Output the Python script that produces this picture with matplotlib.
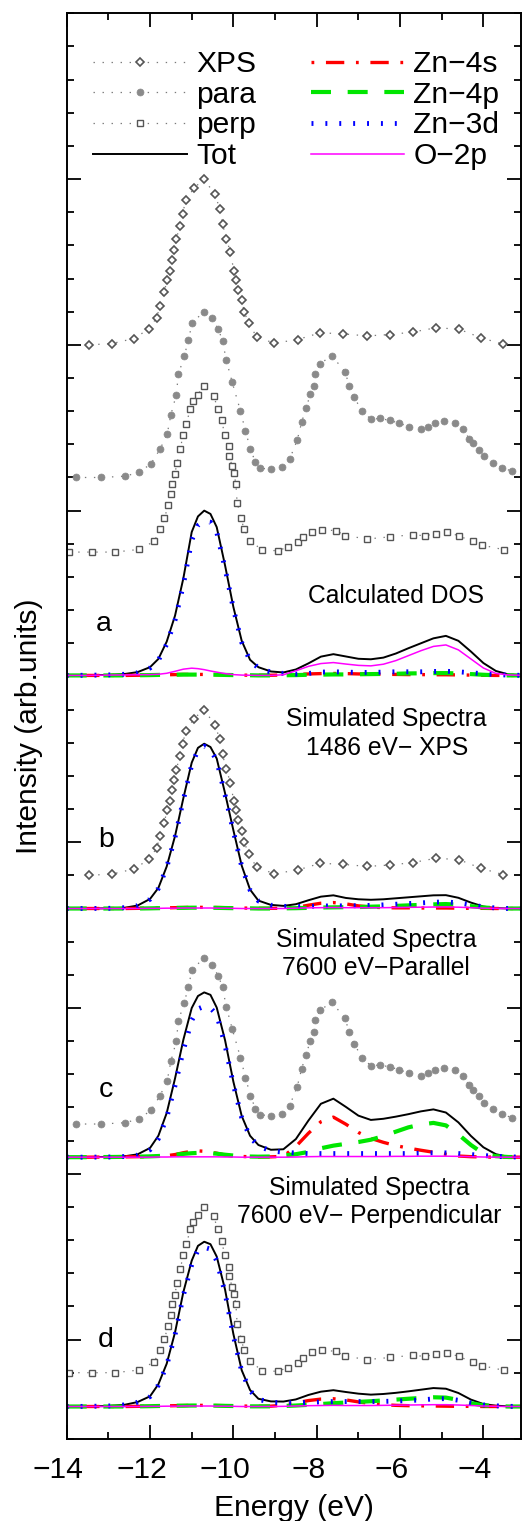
import numpy as np
import matplotlib
matplotlib.use("Agg")
import matplotlib.pyplot as plt
from matplotlib.ticker import FixedLocator, MultipleLocator
from matplotlib.transforms import ScaledTranslation

plt.rcParams['font.family'] = ['Liberation Sans', 'DejaVu Sans']
plt.rcParams['lines.scale_dashes'] = False

# ---------------- experimental spectra (normalised) ----------------
xps_energy = [-13.46, -12.91, -12.39, -12.02, -11.84, -11.76, -11.66, -11.59, -11.53, -11.47,
              -11.42, -11.37, -11.29, -11.22, -11.14, -10.95, -10.71, -10.44, -10.33, -10.26,
              -10.17, -10.07, -9.99, -9.94, -9.89, -9.80, -9.74, -9.63, -9.44, -9.02,
              -8.46, -7.91, -7.36, -6.79, -6.25, -5.70, -5.14, -4.59, -4.05, -3.52]
xps_int = [0.000, 0.008, 0.038, 0.097, 0.165, 0.237, 0.318, 0.393, 0.447, 0.514,
           0.574, 0.636, 0.717, 0.792, 0.872, 0.944, 1.000, 0.908, 0.822, 0.729,
           0.640, 0.558, 0.447, 0.393, 0.332, 0.268, 0.199, 0.129, 0.048, 0.010,
           0.032, 0.073, 0.066, 0.054, 0.062, 0.077, 0.103, 0.095, 0.042, 0.004]

para_energy = [-13.78, -13.17, -12.59, -12.26, -11.98, -11.76, -11.59, -11.50, -11.37, -11.32,
               -11.18, -11.08, -10.99, -10.71, -10.52, -10.36, -10.26, -10.17, -10.03, -9.83,
               -9.71, -9.59, -9.47, -9.37, -9.10, -8.83, -8.65, -8.47, -8.36, -8.26,
               -8.15, -8.07, -8.03, -7.92, -7.64, -7.32, -7.22, -7.10, -6.92, -6.70,
               -6.47, -6.25, -6.02, -5.79, -5.50, -5.33, -5.15, -4.95, -4.69, -4.48,
               -4.34, -4.24, -4.11, -3.98, -3.76, -3.55, -3.32]
para_int = [0.000, 0.000, 0.008, 0.032, 0.082, 0.171, 0.260, 0.378, 0.499, 0.622,
            0.731, 0.828, 0.932, 1.000, 0.961, 0.894, 0.824, 0.707, 0.576, 0.401,
            0.280, 0.171, 0.091, 0.056, 0.050, 0.062, 0.111, 0.224, 0.334, 0.417,
            0.503, 0.553, 0.626, 0.686, 0.735, 0.638, 0.553, 0.485, 0.401, 0.352,
            0.356, 0.344, 0.328, 0.306, 0.292, 0.306, 0.326, 0.338, 0.326, 0.290,
            0.233, 0.205, 0.167, 0.129, 0.088, 0.060, 0.038]

perp_energy = [-13.94, -13.40, -12.84, -12.27, -11.90, -11.76, -11.66, -11.56, -11.50, -11.47,
               -11.41, -11.35, -11.27, -11.21, -11.13, -11.03, -10.98, -10.86, -10.71, -10.47,
               -10.38, -10.28, -10.21, -10.11, -10.10, -10.03, -9.99, -9.94, -9.91, -9.81,
               -9.75, -9.59, -9.31, -8.93, -8.70, -8.44, -8.34, -8.11, -7.87, -7.53,
               -7.32, -6.79, -6.23, -5.70, -5.40, -5.14, -4.88, -4.59, -4.26, -4.03, -3.50]
perp_int = [0.000, 0.000, 0.000, 0.016, 0.064, 0.139, 0.203, 0.282, 0.350, 0.413,
            0.469, 0.538, 0.624, 0.709, 0.775, 0.866, 0.910, 0.950, 1.000, 0.943,
            0.866, 0.795, 0.709, 0.638, 0.582, 0.517, 0.475, 0.413, 0.296, 0.205,
            0.139, 0.068, 0.012, 0.008, 0.030, 0.060, 0.088, 0.123, 0.135, 0.129,
            0.100, 0.079, 0.092, 0.105, 0.098, 0.112, 0.121, 0.098, 0.064, 0.042, 0.014]

# ---------------- calculated curves (normalised to total peak) ----------------
energy_calc = [-14.0, -13.5, -13.0, -12.6, -12.3, -12.0, -11.8, -11.6, -11.4, -11.2,
               -11.0, -10.85, -10.7, -10.55, -10.4, -10.2, -10.0, -9.8, -9.6, -9.4,
               -9.1, -8.8, -8.5, -8.2, -7.9, -7.6, -7.3, -7.0, -6.7, -6.4,
               -6.1, -5.8, -5.5, -5.2, -4.9, -4.6, -4.3, -4.0, -3.7, -3.4, -3.0]

# (a) calculated DOS
tot_a = [0.000, 0.001, 0.003, 0.009, 0.020, 0.050, 0.100, 0.205, 0.363, 0.590,
         0.870, 0.965, 1.000, 0.980, 0.900, 0.668, 0.415, 0.210, 0.095, 0.050,
         0.024, 0.018, 0.036, 0.073, 0.114, 0.129, 0.115, 0.101, 0.098, 0.108,
         0.133, 0.165, 0.195, 0.225, 0.240, 0.210, 0.145, 0.075, 0.027, 0.006, 0.000]
zn4s_a = [0.000, 0.000, 0.000, 0.000, 0.001, 0.002, 0.003, 0.004, 0.005, 0.006,
          0.006, 0.006, 0.006, 0.006, 0.005, 0.004, 0.003, 0.002, 0.001, 0.001,
          0.001, 0.003, 0.006, 0.009, 0.011, 0.012, 0.011, 0.009, 0.008, 0.007,
          0.006, 0.005, 0.005, 0.004, 0.004, 0.003, 0.002, 0.001, 0.000, 0.000, 0.000]
zn4p_a = [0.000, 0.000, 0.000, 0.000, 0.001, 0.002, 0.003, 0.004, 0.004, 0.005,
          0.005, 0.005, 0.005, 0.005, 0.004, 0.003, 0.002, 0.001, 0.001, 0.000,
          0.000, 0.001, 0.002, 0.004, 0.005, 0.006, 0.006, 0.007, 0.008, 0.009,
          0.010, 0.012, 0.013, 0.014, 0.014, 0.012, 0.008, 0.004, 0.001, 0.000, 0.000]
zn3d_a = [0.000, 0.001, 0.003, 0.007, 0.016, 0.045, 0.092, 0.190, 0.335, 0.550,
          0.820, 0.910, 0.935, 0.930, 0.870, 0.650, 0.405, 0.200, 0.090, 0.045,
          0.020, 0.012, 0.008, 0.012, 0.020, 0.022, 0.020, 0.018, 0.018, 0.020,
          0.022, 0.022, 0.022, 0.024, 0.025, 0.022, 0.016, 0.010, 0.005, 0.002, 0.000]
o2p_a = [0.000, 0.000, 0.002, 0.003, 0.004, 0.005, 0.007, 0.013, 0.025, 0.038,
         0.044, 0.041, 0.035, 0.027, 0.020, 0.011, 0.005, 0.002, 0.001, 0.000,
         0.000, 0.004, 0.028, 0.055, 0.072, 0.078, 0.069, 0.061, 0.058, 0.068,
         0.090, 0.120, 0.150, 0.176, 0.185, 0.155, 0.100, 0.045, 0.012, 0.003, 0.000]

# (b) 1486 eV XPS
tot_b = [0.000, 0.000, 0.001, 0.005, 0.018, 0.058, 0.125, 0.255, 0.440, 0.670,
         0.885, 0.975, 1.000, 0.980, 0.910, 0.700, 0.475, 0.260, 0.115, 0.048,
         0.022, 0.016, 0.026, 0.050, 0.072, 0.080, 0.064, 0.056, 0.053, 0.056,
         0.062, 0.068, 0.074, 0.080, 0.081, 0.065, 0.036, 0.012, 0.002, 0.000, 0.000]
zn4s_b = [0.000, 0.000, 0.000, 0.000, 0.001, 0.002, 0.003, 0.004, 0.005, 0.006,
          0.007, 0.007, 0.007, 0.007, 0.006, 0.005, 0.004, 0.003, 0.002, 0.001,
          0.001, 0.001, 0.006, 0.020, 0.032, 0.036, 0.028, 0.016, 0.009, 0.005,
          0.004, 0.004, 0.003, 0.003, 0.003, 0.002, 0.001, 0.001, 0.000, 0.000, 0.000]
zn4p_b = [0.000, 0.000, 0.000, 0.000, 0.000, 0.001, 0.002, 0.003, 0.004, 0.004,
          0.005, 0.005, 0.005, 0.005, 0.004, 0.003, 0.002, 0.001, 0.001, 0.000,
          0.000, 0.001, 0.002, 0.004, 0.006, 0.007, 0.008, 0.009, 0.011, 0.013,
          0.016, 0.019, 0.022, 0.025, 0.027, 0.023, 0.014, 0.006, 0.002, 0.000, 0.000]
zn3d_b = [0.000, 0.000, 0.001, 0.005, 0.017, 0.056, 0.122, 0.250, 0.432, 0.660,
          0.872, 0.962, 0.985, 0.966, 0.897, 0.690, 0.468, 0.255, 0.112, 0.046,
          0.020, 0.013, 0.012, 0.013, 0.015, 0.016, 0.016, 0.017, 0.019, 0.022,
          0.026, 0.030, 0.034, 0.038, 0.040, 0.034, 0.022, 0.010, 0.003, 0.000, 0.000]
o2p_b = [0.000, 0.000, 0.000, 0.000, 0.000, 0.001, 0.001, 0.002, 0.002, 0.003,
         0.003, 0.003, 0.003, 0.003, 0.002, 0.002, 0.001, 0.000, 0.000, 0.000,
         0.000, 0.000, 0.002, 0.004, 0.005, 0.006, 0.005, 0.005, 0.005, 0.005,
         0.006, 0.007, 0.008, 0.009, 0.009, 0.008, 0.005, 0.002, 0.001, 0.000, 0.000]

# (c) 7600 eV parallel
tot_c = [0.000, 0.000, 0.002, 0.006, 0.017, 0.056, 0.130, 0.268, 0.478, 0.713,
         0.905, 0.978, 1.000, 0.985, 0.908, 0.710, 0.458, 0.250, 0.130, 0.074,
         0.045, 0.048, 0.110, 0.222, 0.324, 0.355, 0.305, 0.252, 0.226, 0.233,
         0.246, 0.261, 0.278, 0.290, 0.271, 0.211, 0.129, 0.060, 0.018, 0.002, 0.000]
zn4s_c = [0.000, 0.000, 0.001, 0.002, 0.003, 0.004, 0.006, 0.009, 0.016, 0.027,
          0.036, 0.038, 0.036, 0.031, 0.024, 0.013, 0.007, 0.004, 0.003, 0.002,
          0.002, 0.005, 0.065, 0.145, 0.215, 0.243, 0.200, 0.150, 0.114, 0.090,
          0.070, 0.055, 0.042, 0.030, 0.018, 0.007, 0.003, 0.001, 0.000, 0.000, 0.000]
zn4p_c = [0.000, 0.000, 0.001, 0.002, 0.003, 0.005, 0.007, 0.010, 0.015, 0.020,
          0.024, 0.026, 0.026, 0.024, 0.021, 0.015, 0.010, 0.006, 0.004, 0.003,
          0.004, 0.010, 0.018, 0.032, 0.054, 0.070, 0.081, 0.092, 0.106, 0.128,
          0.155, 0.181, 0.198, 0.208, 0.193, 0.138, 0.074, 0.022, 0.006, 0.001, 0.000]
zn3d_c = [0.000, 0.000, 0.001, 0.004, 0.012, 0.045, 0.112, 0.240, 0.435, 0.650,
          0.830, 0.900, 0.915, 0.905, 0.865, 0.680, 0.440, 0.240, 0.122, 0.068,
          0.038, 0.030, 0.025, 0.022, 0.022, 0.022, 0.022, 0.022, 0.022, 0.022,
          0.022, 0.022, 0.024, 0.026, 0.026, 0.022, 0.016, 0.010, 0.005, 0.002, 0.000]
o2p_c = [0.000, 0.000, 0.000, 0.000, 0.000, 0.000, 0.001, 0.001, 0.002, 0.002,
         0.002, 0.002, 0.002, 0.002, 0.002, 0.001, 0.001, 0.000, 0.000, 0.000,
         0.000, 0.000, 0.001, 0.003, 0.004, 0.004, 0.004, 0.004, 0.004, 0.004,
         0.005, 0.005, 0.006, 0.006, 0.006, 0.005, 0.003, 0.001, 0.000, 0.000, 0.000]

# (d) 7600 eV perpendicular
tot_d = [0.000, 0.001, 0.003, 0.011, 0.027, 0.062, 0.135, 0.260, 0.450, 0.695,
         0.885, 0.975, 1.000, 0.985, 0.910, 0.710, 0.440, 0.220, 0.100, 0.047,
         0.031, 0.030, 0.043, 0.070, 0.090, 0.099, 0.088, 0.078, 0.072, 0.076,
         0.083, 0.092, 0.102, 0.112, 0.108, 0.082, 0.042, 0.015, 0.005, 0.001, 0.000]
zn4s_d = [0.000, 0.000, 0.000, 0.000, 0.001, 0.002, 0.003, 0.004, 0.005, 0.006,
          0.007, 0.007, 0.007, 0.007, 0.006, 0.005, 0.004, 0.003, 0.002, 0.001,
          0.002, 0.008, 0.022, 0.036, 0.045, 0.047, 0.040, 0.028, 0.018, 0.011,
          0.007, 0.005, 0.004, 0.003, 0.002, 0.001, 0.001, 0.000, 0.000, 0.000, 0.000]
zn4p_d = [0.000, 0.000, 0.000, 0.000, 0.001, 0.002, 0.003, 0.004, 0.005, 0.005,
          0.006, 0.006, 0.006, 0.006, 0.005, 0.004, 0.003, 0.002, 0.001, 0.001,
          0.001, 0.003, 0.006, 0.010, 0.015, 0.020, 0.024, 0.028, 0.032, 0.037,
          0.042, 0.047, 0.052, 0.056, 0.054, 0.040, 0.020, 0.007, 0.002, 0.000, 0.000]
zn3d_d = [0.000, 0.001, 0.003, 0.010, 0.026, 0.060, 0.130, 0.250, 0.435, 0.675,
          0.860, 0.950, 0.966, 0.955, 0.885, 0.690, 0.428, 0.213, 0.096, 0.043,
          0.026, 0.022, 0.022, 0.025, 0.028, 0.030, 0.030, 0.030, 0.030, 0.031,
          0.033, 0.036, 0.040, 0.046, 0.048, 0.038, 0.022, 0.010, 0.004, 0.001, 0.000]
o2p_d = [0.000, 0.000, 0.000, 0.000, 0.000, 0.001, 0.001, 0.002, 0.002, 0.003,
         0.003, 0.003, 0.003, 0.003, 0.002, 0.002, 0.001, 0.000, 0.000, 0.000,
         0.000, 0.001, 0.003, 0.005, 0.006, 0.007, 0.006, 0.006, 0.006, 0.007,
         0.008, 0.009, 0.010, 0.011, 0.011, 0.009, 0.006, 0.003, 0.001, 0.000, 0.000]

xticks_major = [-14, -12, -10, -8, -6, -4]

# ---------------- layout ----------------
W, H = 522, 1521
L, R, T, B = 66.7, 521.0, 13.3, 1439.0
PX_PER_EV = 41.67

fig = plt.figure(figsize=(W / 100, H / 100), dpi=100)
ax = fig.add_axes([L / W, 1 - B / H, (R - L) / W, (B - T) / H])
ax.set_xlim(-14, -14 + (R - L) / PX_PER_EV)
ax.set_ylim(0, 43)


def frac(px, py):
    """Figure pixel position -> axes fraction."""
    return (px - L) / (R - L), (B - py) / (B - T)


EXP_SCALE = 5.0
CALC_SCALE = 4.97
exp_line = dict(linestyle=(0, (1.0, 5.5)), color='#7a7a7a', lw=0.9)
xps_style = dict(marker='D', ms=3.9, mfc='white', mec='#555555', mew=1.2)
para_style = dict(marker='o', ms=5.0, mfc='#8a8a8a', mec='#8a8a8a', mew=0.5)
perp_style = dict(marker='s', ms=3.7, mfc='white', mec='#555555', mew=1.0)

calc_styles = {
    'tot': dict(color='black', lw=1.4, linestyle='-'),
    's': dict(color='#ff0000', lw=2.4, linestyle=(0, (2.0, 8.4, 13.2, 8.4))),
    'p': dict(color='#00e600', lw=3.0, linestyle=(0, (14.4, 12.0))),
    'd': dict(color='#0000ff', lw=3.5, linestyle=(0, (1.4, 8.6))),
    'o': dict(color='#ff00ff', lw=1.1, linestyle='-'),
}


def plot_exp(energy, inten, offset, style, label=None):
    y = offset + EXP_SCALE * np.asarray(inten)
    return ax.plot(energy, y, label=label, **exp_line, **style)[0]


def plot_calc(base, tot, s, p, d, o, labels=False):
    names = ['Tot', 'Zn\u22124s', 'Zn\u22124p', 'Zn\u22123d', 'O\u22122p']
    handles = []
    for key, arr, name in zip(['tot', 's', 'p', 'd', 'o'], [tot, s, p, d, o], names):
        y = base + CALC_SCALE * np.asarray(arr)
        h, = ax.plot(energy_calc, y, label=name if labels else None, **calc_styles[key])
        handles.append(h)
    return handles


# panel a
h_xps = plot_exp(xps_energy, xps_int, 33.0, xps_style, 'XPS')
h_para = plot_exp(para_energy, para_int, 29.0, para_style, 'para')
h_perp = plot_exp(perp_energy, perp_int, 26.75, perp_style, 'perp')
h_calc = plot_calc(23.03, tot_a, zn4s_a, zn4p_a, zn3d_a, o2p_a, labels=True)
# panel b
plot_exp(xps_energy, xps_int, 17.0, xps_style)
plot_calc(16.0, tot_b, zn4s_b, zn4p_b, zn3d_b, o2p_b)
# panel c
plot_exp(para_energy, para_int, 9.5, para_style)
plot_calc(8.5, tot_c, zn4s_c, zn4p_c, zn3d_c, o2p_c)
# panel d
plot_exp(perp_energy, perp_int, 2.0, perp_style)
plot_calc(0.98, tot_d, zn4s_d, zn4p_d, zn3d_d, o2p_d)

# ---------------- axes decoration ----------------
for sp in ax.spines.values():
    sp.set_linewidth(1.4)
ax.xaxis.set_major_locator(FixedLocator(xticks_major))
ax.xaxis.set_minor_locator(MultipleLocator(1))
ax.yaxis.set_major_locator(FixedLocator([3, 8, 13, 18, 23, 28, 33, 38]))
ax.yaxis.set_minor_locator(MultipleLocator(1))
ax.tick_params(which='both', direction='in', top=True, right=True, width=1.3)
ax.tick_params(which='major', length=10, labelsize=21.6, pad=12)
ax.tick_params(which='minor', length=5)
ax.tick_params(axis='y', which='both', labelleft=False)
shift = ScaledTranslation(-8.5 / 100, 0, fig.dpi_scale_trans)
for lab in ax.get_xticklabels():
    lab.set_transform(lab.get_transform() + shift)

ax.set_xlabel('Energy (eV)', fontsize=21.6)
ax.xaxis.set_label_coords(0.5, frac(0, 1494)[1])
ax.set_ylabel('Intensity (arb.units)', fontsize=21.6, va='center')
ax.yaxis.set_label_coords(frac(29, 0)[0], 0.5)

leg = ax.legend([h_xps, h_para, h_perp] + h_calc[:1] + h_calc[1:],
                ['XPS', 'para', 'perp', 'Tot', 'Zn\u22124s', 'Zn\u22124p', 'Zn\u22123d', 'O\u22122p'],
                ncol=2, loc='upper left', bbox_to_anchor=frac(93, 50),
                frameon=False, fontsize=21.6, borderpad=0, borderaxespad=0,
                handlelength=3.13, handletextpad=0.3, columnspacing=1.82,
                labelspacing=0.09, numpoints=1)

ann = 17.7
for txt, (px, py) in [('Calculated DOS', (395.7, 603.3)),
                      ('Simulated Spectra', (386.7, 726.0)),
                      ('1486 eV\u2212 XPS', (387.5, 755.0)),
                      ('Simulated Spectra', (376.0, 946.7)),
                      ('7600 eV\u2212Parallel', (376.0, 975.0)),
                      ('Simulated Spectra', (369.7, 1195.0)),
                      ('7600 eV\u2212 Perpendicular', (369.5, 1223.3))]:
    ax.text(*frac(px, py), txt, transform=ax.transAxes, ha='center', va='baseline', fontsize=ann)

for txt, (px, py) in [('a', (104.0, 631.0)), ('b', (106.0, 846.7)),
                      ('c', (105.8, 1097.0)), ('d', (106.0, 1346.7))]:
    ax.text(*frac(px, py), txt, transform=ax.transAxes, ha='center', va='baseline', fontsize=20.5)

fig.savefig('out.png', dpi=100)
